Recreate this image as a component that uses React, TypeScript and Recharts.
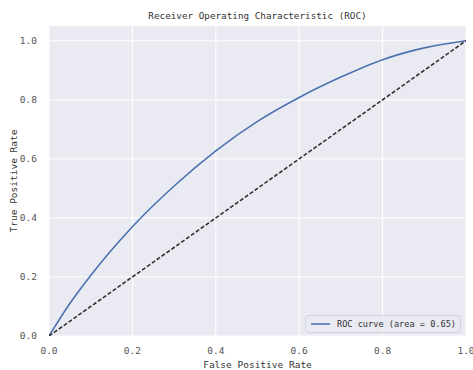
import React from 'react'
import { LineChart, Line, XAxis, YAxis, CartesianGrid, Label } from 'recharts'

// ROC curve points
const fpr = [0, 0.05, 0.1, 0.2, 0.3, 0.4, 0.5, 0.6, 0.7, 0.8, 0.9, 1.0]
const tpr = [0, 0.11, 0.205, 0.37, 0.508, 0.627, 0.727, 0.808, 0.877, 0.936, 0.976, 1.0]
const chanceX = [0, 1]
const chanceY = [0, 1]
const xTicks = [0, 0.2, 0.4, 0.6, 0.8, 1.0]
const yTicks = [0, 0.2, 0.4, 0.6, 0.8, 1.0]
const aucLabel = 'ROC curve (area = 0.65)'

const rocData = fpr.map((x, i) => ({ x, roc: tpr[i] }))
const chanceData = chanceX.map((x, i) => ({ x, chance: chanceY[i] }))

const FONT = '"DejaVu Sans Mono", monospace'

export default function App() {
  const tick = { fontSize: 9.5, fill: '#555', fontFamily: FONT }
  return (
    <div style={{ position: 'absolute', left: 0, top: 0, width: 473, height: 370, background: '#fff' }}>
      <div style={{ position: 'absolute', left: 0, width: 473, top: 10, textAlign: 'center', paddingLeft: 42, boxSizing: 'border-box', fontFamily: FONT, fontSize: 9.3, color: '#333' }}>
        Receiver Operating Characteristic (ROC)
      </div>
      <LineChart width={473} height={370} margin={{ top: 26, right: 7, bottom: 0, left: 0 }}>
        <CartesianGrid stroke="#ffffff" strokeWidth={1} fill="#eaeaf2" horizontalValues={yTicks} verticalValues={xTicks} />
        <XAxis
          type="number" dataKey="x" domain={[0, 1]} ticks={xTicks} allowDataOverflow
          axisLine={false} tickLine={false} tick={tick} tickMargin={5} height={34}
          tickFormatter={(v: number) => v.toFixed(1)}
        >
          <Label value="False Positive Rate" position="insideBottom" offset={2} style={{ fontFamily: FONT, fontSize: 9.5, fill: '#333' }} />
        </XAxis>
        <YAxis
          type="number" domain={[0, 1.05]} ticks={yTicks} allowDataOverflow
          axisLine={false} tickLine={false} tick={tick} tickMargin={6} width={49}
          tickFormatter={(v: number) => v.toFixed(1)}
        >
          <Label value="True Positive Rate" angle={-90} position="insideLeft" offset={14} style={{ fontFamily: FONT, fontSize: 9.5, fill: '#333', textAnchor: 'middle' }} />
        </YAxis>
        <Line data={rocData} dataKey="roc" type="monotone" stroke="#4c72b0" strokeWidth={1.6} dot={false} isAnimationActive={false} />
        <Line data={chanceData} dataKey="chance" type="linear" stroke="#333" strokeWidth={1.6} strokeDasharray="4 2" dot={false} isAnimationActive={false} />
      </LineChart>
      <div
        style={{
          position: 'absolute', left: 305, top: 315, width: 156, height: 18, boxSizing: 'border-box',
          display: 'flex', alignItems: 'center', gap: 7,
          background: 'rgba(234,234,242,0.8)', border: '1px solid #d2d2da', borderRadius: 3,
          padding: '0 4px 0 5px', fontFamily: FONT, fontSize: 8.6, color: '#333', whiteSpace: 'nowrap',
        }}
      >
        <svg width={20} height={4}><line x1={0} y1={2} x2={20} y2={2} stroke="#4c72b0" strokeWidth={1.6} /></svg>
        <span>{aucLabel}</span>
      </div>
    </div>
  )
}
